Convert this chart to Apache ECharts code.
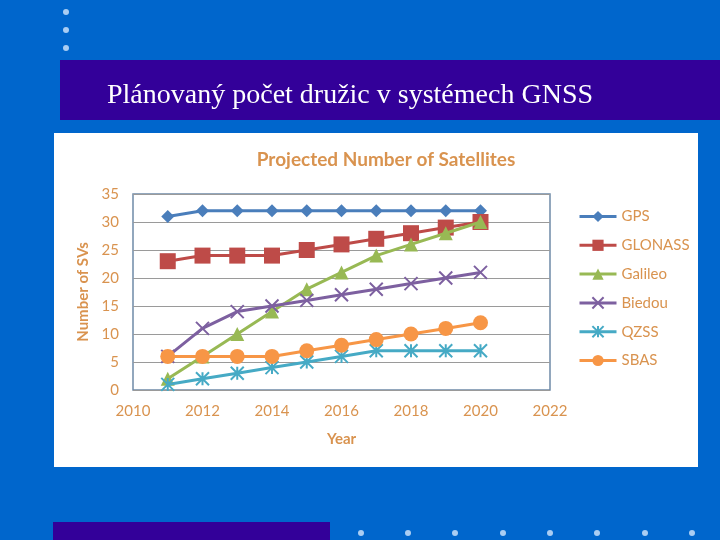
<!DOCTYPE html>
<html>
<head>
<meta charset="utf-8">
<script src="https://cdn.jsdelivr.net/npm/echarts@6/dist/echarts.min.js"></script>
<style>
html,body{margin:0;padding:0;background:#0066cc;}
#c{width:720px;height:540px;}
</style>
</head>
<body>
<div id="c"></div>
<script>
const slideTitle = 'Plánovaný počet družic v systémech GNSS';
const chartTitle = 'Projected Number of Satellites';
const years = [2011, 2012, 2013, 2014, 2015, 2016, 2017, 2018, 2019, 2020];
const seriesNames = ['GPS', 'GLONASS', 'Galileo', 'Biedou', 'QZSS', 'SBAS'];
const gps     = [31, 32, 32, 32, 32, 32, 32, 32, 32, 32];
const glonass = [23, 24, 24, 24, 25, 26, 27, 28, 29, 30];
const galileo = [2, 6, 10, 14, 18, 21, 24, 26, 28, 30];
const biedou  = [6, 11, 14, 15, 16, 17, 18, 19, 20, 21];
const qzss    = [1, 2, 3, 4, 5, 6, 7, 7, 7, 7];
const sbas    = [6, 6, 6, 6, 7, 8, 9, 10, 11, 12];
const xTicks = [2010, 2012, 2014, 2016, 2018, 2020, 2022];
const yTicks = [0, 5, 10, 15, 20, 25, 30, 35];

const colors = ['#4a7ebb', '#be4b48', '#98b954', '#7d60a0', '#46aac5', '#f79646'];
const txt = '#d9934f';
const font = 'Lato, "Open Sans", sans-serif';
const values = [gps, glonass, galileo, biedou, qzss, sbas];
const symbols = [
  'diamond', 'rect', 'triangle',
  'path://M0,0L10,10M10,0L0,10',
  'path://M0,0L10,10M10,0L0,10M5,0L5,10',
  'circle'
];
const sizes = [13, 16, 14, 13, 13, 15];

const chart = echarts.init(document.getElementById('c'));
const dots = [];
[12, 30, 48].forEach(y => dots.push({type:'circle', shape:{cx:66, cy:y, r:3}, style:{fill:'#a9cdf3'}, z:-10}));
[361, 408, 455, 503, 550, 597, 645, 692].forEach(x => dots.push({type:'circle', shape:{cx:x, cy:533, r:3}, style:{fill:'#a9cdf3'}, z:-10}));

chart.setOption({
  backgroundColor: '#0066cc',
  animation: false,
  color: colors,
  graphic: [
    {type:'rect', shape:{x:60, y:60, width:660, height:60}, style:{fill:'#330099'}, z:-10},
    {type:'text', left:107, top:82, style:{text:slideTitle, fill:'#ffffff', font:'28px "Liberation Serif", "DejaVu Serif", serif'}, z:-9},
    {type:'rect', shape:{x:54, y:133, width:644, height:334}, style:{fill:'#ffffff'}, z:-10},
    {type:'rect', shape:{x:53, y:522, width:277, height:18}, style:{fill:'#330099'}, z:-10}
  ].concat(dots),
  title: {
    text: chartTitle,
    left: 381, top: 145, textAlign: 'center',
    textStyle: {color: txt, fontSize: 19, fontWeight: 'bold', fontFamily: font}
  },
  legend: {
    orient: 'vertical',
    left: 573, top: 204,
    itemWidth: 37, itemHeight: 14, itemGap: 13.8,
    lineStyle: {width: 3},
    textStyle: {color: txt, fontSize: 15, fontFamily: font},
    data: seriesNames
  },
  grid: {left: 133, top: 194, width: 417, height: 196, show: true, borderColor: '#6f8aa8', borderWidth: 1.5, backgroundColor: 'transparent'},
  xAxis: {
    type: 'value', min: 2010, max: 2022, interval: 2,
    name: 'Year', nameLocation: 'middle', nameGap: 42,
    nameTextStyle: {color: txt, fontSize: 15, fontWeight: 'bold', fontFamily: font},
    axisLine: {show: false}, axisTick: {show: false}, splitLine: {show: false},
    axisLabel: {color: txt, fontSize: 15, fontFamily: font, margin: 14,
      formatter: v => xTicks.includes(v) ? String(v) : ''}
  },
  yAxis: {
    type: 'value', min: 0, max: 35, interval: 5,
    name: 'Number of SVs', nameLocation: 'middle', nameGap: 35, nameRotate: 90,
    nameTextStyle: {color: txt, fontSize: 15, fontWeight: 'bold', fontFamily: font},
    axisLine: {show: false}, axisTick: {show: false},
    splitLine: {lineStyle: {color: '#9a9a9a', width: 1.2}},
    axisLabel: {color: txt, fontSize: 15, fontFamily: font, margin: 14,
      formatter: v => yTicks.includes(v) ? String(v) : ''}
  },
  series: seriesNames.map((n, i) => ({
    name: n, type: 'line',
    data: years.map((y, k) => [y, values[i][k]]),
    symbol: symbols[i], symbolSize: sizes[i], showSymbol: true,
    lineStyle: {width: 3, color: colors[i]},
    itemStyle: {color: colors[i], borderColor: colors[i], borderWidth: (i === 3 || i === 4) ? 2 : 0, opacity: 1},
    z: 2 + i
  }))
});
</script>
</body>
</html>
